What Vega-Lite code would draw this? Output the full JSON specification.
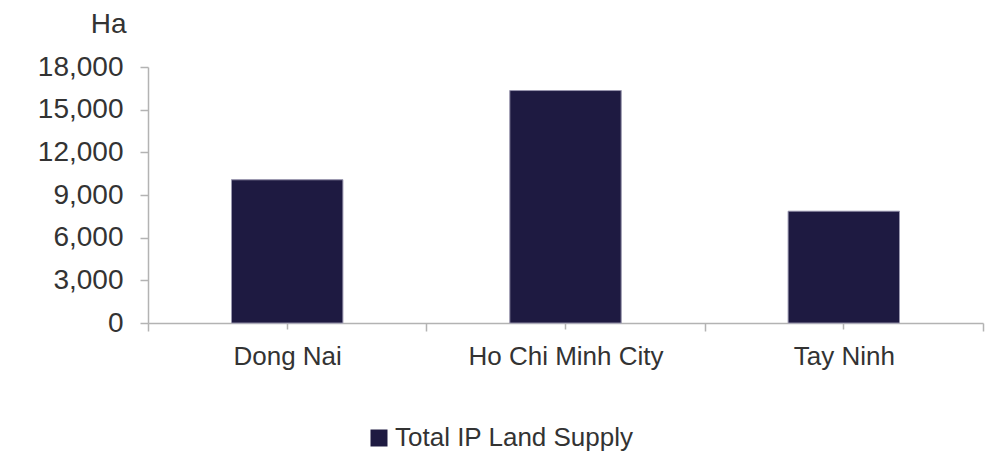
{
  "$schema": "https://vega.github.io/schema/vega-lite/v6.json",
  "width": 835,
  "height": 256,
  "autosize": {"type": "none"},
  "padding": {"left": 148, "top": 67, "right": 3, "bottom": 132},
  "background": "white",
  "config": {"view": {"stroke": null}, "font": "Liberation Sans"},
  "data": {
    "values": [
      {"province": "Dong Nai", "supply": 10070, "series": "Total IP Land Supply"},
      {"province": "Ho Chi Minh City", "supply": 16344, "series": "Total IP Land Supply"},
      {"province": "Tay Ninh", "supply": 7857, "series": "Total IP Land Supply"}
    ]
  },
  "layer": [
    {
      "mark": {"type": "bar", "stroke": "#a8a6bb", "strokeWidth": 0.8, "width": {"band": 0.4}},
      "encoding": {
        "x": {
          "field": "province", "type": "nominal", "sort": null,
          "scale": {"paddingInner": 0, "paddingOuter": 0},
          "axis": {
            "title": null, "labelAngle": 0, "tickBand": "extent", "tickSize": 8, "labelLimit": 0,
            "tickColor": "#b3b3b3", "tickWidth": 1.5, "domainColor": "#b3b3b3", "domainWidth": 1.5,
            "labelFontSize": 26, "labelColor": "#333333", "labelPadding": 12, "labelFont": "Liberation Sans"
          }
        },
        "y": {
          "field": "supply", "type": "quantitative",
          "scale": {"domain": [0, 18000]},
          "axis": {
            "title": "Ha", "titleAngle": 0, "titleAlign": "right", "titleBaseline": "top",
            "titleX": -22, "titleY": -57, "titleFontSize": 28, "titleFontWeight": "normal",
            "titleColor": "#333333", "titleFont": "Liberation Sans",
            "values": [0, 3000, 6000, 9000, 12000, 15000, 18000], "format": ",.0f",
            "grid": false, "labelFontSize": 28, "labelColor": "#333333", "labelPadding": 17,
            "labelFont": "Liberation Sans",
            "tickSize": 8, "tickColor": "#b3b3b3", "tickWidth": 1.5,
            "domainColor": "#b3b3b3", "domainWidth": 1.5
          }
        },
        "color": {
          "field": "series", "type": "nominal",
          "scale": {"range": ["#1e1a41"]},
          "legend": {
            "title": null, "orient": "none", "legendX": 218, "legendY": 358,
            "symbolType": "square", "symbolSize": 289, "symbolStrokeWidth": 0, "labelLimit": 0,
            "labelFontSize": 26, "labelColor": "#333333", "labelFont": "Liberation Sans", "labelOffset": 3
          }
        }
      }
    },
    {
      "mark": {"type": "bar", "stroke": "#a8a6bb", "strokeWidth": 0.8, "width": {"band": 0.4}},
      "encoding": {
        "x": {
          "field": "province", "type": "nominal", "sort": null,
          "axis": {
            "orient": "bottom", "title": null, "labels": false, "domain": false,
            "tickSize": 6, "tickColor": "#b3b3b3", "tickWidth": 1.5
          }
        },
        "y": {"field": "supply", "type": "quantitative", "axis": null},
        "color": {"field": "series", "type": "nominal"}
      }
    }
  ],
  "resolve": {"axis": {"x": "independent", "y": "independent"}}
}
